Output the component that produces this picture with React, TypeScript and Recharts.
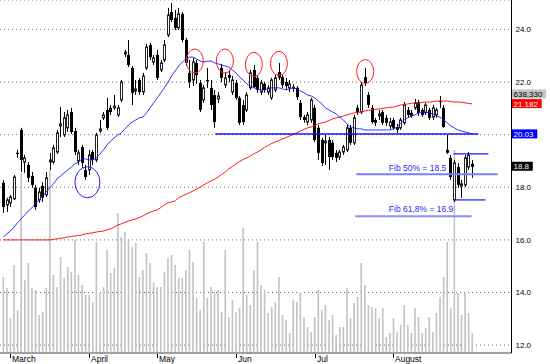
import React from 'react'
import {
  ComposedChart,
  Bar,
  Line,
  XAxis,
  YAxis,
  CartesianGrid,
  ReferenceLine,
  ReferenceDot,
} from 'recharts'

document.body.style.margin = '0'

const font = '"Liberation Sans", Arial, sans-serif'

// daily OHLC, one entry per trading day (late Feb .. end of August)
const opens = [
  18.17, 17.33, 17.41, 17.56, 19.31, 20.18, 18.96, 18.85, 18.43, 17.98,
  17.52, 18.05, 17.71, 18.96, 18.96, 19.34, 20.33, 19.99, 20.26, 20.86,
  20.14, 19.0, 19.53, 18.66, 18.66, 19.34, 19.04, 20.14, 20.64, 20.94,
  21.02, 21.02, 20.75, 21.32, 23.07, 23.03, 22.54, 21.66, 22.08, 21.62,
  22.54, 23.41, 22.76, 23.03, 22.46, 22.84, 23.79, 24.66, 24.44, 24.06,
  24.59, 23.6, 22.35, 22.08, 22.73, 21.97, 21.32, 22.08, 21.78, 21.51,
  21.36, 22.54, 21.89, 22.27, 21.62, 21.97, 21.4, 21.13, 20.94, 21.78,
  22.46, 22.16, 21.62, 21.93, 21.62, 21.4, 21.7, 22.38, 22.19, 22.0,
  21.78, 21.78, 21.78, 21.21, 20.67, 20.48, 20.56, 21.02, 20.26, 19.8,
  19.69, 19.8, 19.69, 19.31, 19.15, 19.34, 19.42, 20.26, 19.69, 21.02,
  20.86, 22.19, 21.51, 21.02, 20.56, 20.71, 20.86, 20.64, 20.33, 20.56,
  20.29, 20.26, 20.45, 20.94, 20.83, 21.02, 21.24, 20.94, 20.83, 20.94,
  20.67, 20.75, 21.28, 21.02, 19.42, 19.12, 17.52, 18.77, 18.05, 18.09,
  18.77, 18.89,
]
const highs = [
  18.28, 17.6, 17.71, 18.47, 19.42, 20.26, 19.23, 18.96, 18.58, 18.09,
  17.98, 18.2, 18.58, 19.31, 19.61, 20.18, 21.05, 20.86, 20.94, 21.02,
  20.26, 19.42, 19.61, 18.85, 19.42, 19.42, 20.07, 20.56, 20.86, 21.4,
  21.13, 21.51, 21.13, 22.08, 23.22, 23.6, 22.61, 22.08, 22.16, 22.35,
  23.45, 23.49, 23.03, 23.22, 22.84, 23.6, 24.82, 25.01, 24.74, 24.82,
  24.66, 23.68, 22.84, 22.92, 22.84, 22.08, 21.89, 22.54, 22.08, 21.7,
  21.62, 22.69, 22.38, 22.46, 22.23, 22.08, 21.47, 21.32, 21.62, 22.46,
  22.65, 22.27, 22.08, 22.0, 21.89, 22.16, 22.27, 22.73, 22.27, 22.16,
  22.08, 21.93, 21.85, 21.32, 20.75, 20.86, 21.4, 21.13, 20.37, 19.88,
  19.99, 19.91, 19.8, 19.42, 19.42, 19.61, 20.37, 20.37, 20.75, 21.13,
  22.0, 22.54, 21.62, 21.13, 20.64, 20.94, 20.94, 20.75, 20.64, 20.64,
  20.41, 20.64, 21.24, 21.05, 20.94, 21.36, 21.32, 21.02, 21.21, 21.02,
  21.13, 21.02, 21.47, 21.13, 19.99, 19.23, 19.04, 18.92, 18.28, 19.23,
  19.34, 19.04,
]
const lows = [
  17.03, 17.06, 17.25, 17.52, 19.12, 18.58, 18.55, 18.2, 17.98, 17.14,
  17.41, 17.44, 17.63, 18.66, 18.89, 19.27, 19.91, 19.91, 20.1, 20.03,
  19.23, 18.85, 18.74, 18.28, 18.47, 18.85, 18.96, 20.07, 20.56, 20.18,
  20.75, 20.94, 20.67, 21.24, 22.95, 22.57, 21.13, 21.51, 21.51, 21.51,
  22.46, 22.84, 22.65, 22.08, 22.38, 22.76, 23.71, 24.28, 23.98, 23.98,
  23.52, 22.61, 21.78, 21.85, 21.93, 20.86, 21.21, 21.78, 20.94, 20.26,
  21.21, 22.0, 21.78, 22.0, 21.51, 21.32, 20.37, 20.37, 20.86, 21.7,
  21.78, 21.59, 21.51, 21.59, 21.51, 21.32, 21.62, 22.08, 21.78, 21.7,
  21.62, 21.62, 21.32, 20.56, 20.45, 20.37, 20.45, 19.72, 19.04, 18.81,
  18.85, 18.66, 19.04, 18.96, 19.04, 19.23, 19.34, 19.61, 19.61, 20.75,
  20.79, 21.85, 21.02, 20.41, 20.33, 20.56, 20.37, 20.33, 20.22, 20.18,
  20.07, 20.18, 20.37, 20.64, 20.64, 20.94, 20.71, 20.67, 20.75, 20.56,
  20.56, 20.64, 21.02, 20.26, 19.27, 18.28, 17.44, 17.98, 17.6, 18.01,
  18.66, 18.36,
]
const closes = [
  17.25, 17.52, 17.63, 18.39, 19.27, 19.04, 19.12, 18.36, 18.09, 17.25,
  17.82, 17.6, 18.36, 19.04, 19.5, 20.07, 20.41, 20.64, 20.75, 20.1,
  19.34, 19.31, 18.93, 18.39, 19.23, 19.04, 19.99, 20.22, 20.75, 20.26,
  20.86, 21.09, 21.02, 22.0, 23.14, 22.65, 21.59, 21.74, 21.62, 22.23,
  23.33, 22.95, 22.92, 22.16, 22.73, 23.41, 24.55, 24.36, 24.06, 24.59,
  23.6, 22.73, 22.0, 22.76, 22.27, 20.94, 21.78, 22.04, 21.13, 20.48,
  21.47, 22.16, 22.16, 22.16, 22.08, 21.4, 20.45, 20.48, 21.51, 22.35,
  21.81, 21.7, 21.97, 21.7, 21.78, 22.08, 22.16, 22.16, 21.89, 21.85,
  21.93, 21.81, 21.43, 20.67, 20.56, 20.75, 21.32, 19.8, 19.31, 18.92,
  19.76, 19.15, 19.15, 19.12, 19.34, 19.53, 20.26, 19.69, 20.64, 20.86,
  21.89, 21.97, 21.13, 20.48, 20.45, 20.79, 20.45, 20.45, 20.48, 20.26,
  20.18, 20.56, 21.13, 20.75, 20.71, 21.21, 20.83, 20.75, 21.13, 20.64,
  21.02, 20.94, 21.24, 20.29, 19.31, 18.39, 18.93, 18.09, 18.13, 19.12,
  19.23, 18.77,
]
// volume, in units of ~32k shares
const volumes = [
  76, 65, 35, 88, 43, 180, 73, 90, 65, 63,
  38, 41, 65, 183, 78, 66, 96, 75, 86, 81,
  113, 78, 68, 58, 58, 51, 111, 60, 66, 103,
  80, 85, 140, 116, 121, 113, 106, 110, 76, 83,
  100, 90, 71, 66, 66, 81, 95, 98, 88, 75,
  75, 83, 103, 91, 55, 43, 111, 55, 66, 61,
  63, 41, 103, 36, 53, 41, 45, 125, 58, 48,
  83, 111, 68, 63, 40, 46, 51, 76, 38, 33,
  20, 53, 51, 61, 36, 26, 21, 36, 63, 43,
  48, 33, 38, 18, 26, 26, 65, 35, 50, 56,
  90, 68, 48, 46, 45, 35, 45, 16, 20, 35,
  21, 28, 48, 28, 20, 45, 36, 20, 25, 36,
  21, 40, 56, 76, 111, 45, 203, 60, 38, 60,
  40, 20,
]
// short moving average (blue)
const maShort = [
  16.11, 16.23, 16.34, 16.49, 16.65, 16.8, 16.95, 17.1, 17.22, 17.37,
  17.52, 17.67, 17.82, 17.98, 18.13, 18.32, 18.43, 18.55, 18.66, 18.77,
  18.89, 18.96, 19.08, 19.08, 19.04, 19.04, 19.12, 19.27, 19.42, 19.61,
  19.76, 19.88, 19.99, 20.07, 20.22, 20.37, 20.48, 20.56, 20.64, 20.67,
  20.83, 21.02, 21.21, 21.4, 21.59, 21.78, 22.0, 22.23, 22.42, 22.61,
  22.76, 22.88, 22.95, 22.95, 22.88, 22.8, 22.76, 22.8, 22.8, 22.73,
  22.69, 22.65, 22.61, 22.57, 22.46, 22.35, 22.19, 22.08, 21.93, 21.85,
  21.78, 21.74, 21.7, 21.7, 21.74, 21.78, 21.78, 21.78, 21.74, 21.7,
  21.74, 21.78, 21.74, 21.66, 21.59, 21.51, 21.47, 21.4, 21.28, 21.17,
  21.02, 20.94, 20.86, 20.79, 20.67, 20.56, 20.41, 20.29, 20.26, 20.22,
  20.22, 20.18, 20.18, 20.18, 20.18, 20.18, 20.18, 20.18, 20.18, 20.22,
  20.29, 20.45, 20.56, 20.64, 20.71, 20.75, 20.83, 20.86, 20.86, 20.83,
  20.79, 20.71, 20.67, 20.56, 20.45, 20.33, 20.26, 20.18, 20.14, 20.1,
  20.07, 20.03,
]
// long moving average (red)
const maLong = [
  16.0, 16.0, 16.0, 16.0, 16.0, 16.0, 16.0, 16.0, 16.0, 16.0,
  16.0, 16.0, 16.0, 16.0, 16.02, 16.04, 16.06, 16.08, 16.11, 16.13,
  16.15, 16.17, 16.19, 16.23, 16.25, 16.27, 16.3, 16.32, 16.34, 16.38,
  16.42, 16.49, 16.57, 16.61, 16.67, 16.72, 16.76, 16.8, 16.85, 16.91,
  16.99, 17.05, 17.1, 17.14, 17.23, 17.33, 17.41, 17.44, 17.48, 17.6,
  17.67, 17.73, 17.79, 17.86, 17.94, 18.01, 18.09, 18.17, 18.24, 18.3,
  18.39, 18.49, 18.58, 18.7, 18.79, 18.89, 18.98, 19.06, 19.12, 19.19,
  19.27, 19.34, 19.42, 19.52, 19.59, 19.67, 19.72, 19.78, 19.84, 19.89,
  19.95, 20.01, 20.07, 20.14, 20.2, 20.26, 20.29, 20.35, 20.41, 20.45,
  20.48, 20.54, 20.6, 20.64, 20.67, 20.71, 20.75, 20.79, 20.83, 20.85,
  20.86, 20.9, 20.92, 20.94, 20.96, 20.98, 21.0, 21.02, 21.04, 21.05,
  21.09, 21.13, 21.15, 21.17, 21.19, 21.21, 21.21, 21.23, 21.24, 21.24,
  21.26, 21.28, 21.28, 21.28, 21.28, 21.26, 21.24, 21.24, 21.23, 21.21,
  21.19, 21.17,
]

const monthTicks = [2, 24, 43, 65, 87, 109]
const monthLabels = ['March', 'April', 'May', 'Jun', 'Jul', 'August']
const priceTicks = [12, 14, 16, 18, 20, 22, 24]

// drawn levels: support line, fib 50%, fib 61.8%, short bracket lines
const levelValues = [20.03, 18.5, 16.9, 19.27, 17.52]
const levelFrom = [59.2, 98.6, 98.3, 125.8, 126]
const levelTo = [132.7, 138.1, 130.8, 135.5, 134.7]
const levelColors = ['#1414ff', '#7d7dff', '#8c8cff', '#1414ff', '#1414ff']
const levelWidths = [1.5, 2, 2, 1.2, 1.2]

const fibTexts = ['Fib 50% = 18.5', 'Fib 61,8% = 16.9']
const fibTextX = [107.7, 107.7]
const fibTextY = [18.62, 17.06]

// red circles on the tops, blue circle on the April low
const topCircleX = [53.5, 61.9, 70.0, 77.0, 101.1]
const topCircleY = [22.8, 22.8, 22.67, 22.71, 22.4]
const lowCircleX = [23.5]
const lowCircleY = [18.19]

// right-hand value tags
const tagTexts = ['638,330', '21.182', '20.03', '18.8']
const tagLevels = [21.55, 21.182, 20.03, 18.8]
const tagFills = ['#c4c4c4', '#ff0000', '#0000ff', '#000000']
const tagInk = ['#000', '#fff', '#fff', '#fff']

const data = opens.map((open, i) => ({
  i,
  open,
  high: highs[i],
  low: lows[i],
  close: closes[i],
  range: [lows[i], highs[i]],
  volume: volumes[i],
  maShort: maShort[i],
  maLong: maLong[i],
}))

const xDomain = [-0.92, 141.97]

function Candle(props: any) {
  const { x, y, width, height, payload } = props
  if (!payload) return null
  const { open, close, high, low } = payload
  const top = Math.min(y, y + height)
  const h = Math.abs(height)
  const k = high === low ? 0 : h / (high - low)
  const cx = Math.round(x + width / 2)
  const bodyTop = top + (high - Math.max(open, close)) * k
  const bodyH = Math.max(1.2, Math.abs(open - close) * k)
  const up = close >= open
  return (
    <g>
      <line x1={cx + 0.5} x2={cx + 0.5} y1={top} y2={top + h} stroke="#000" strokeWidth={1} />
      {up ? (
        <rect x={cx - 0.5} y={bodyTop} width={2} height={bodyH} fill="#fff" stroke="#222" strokeWidth={1} />
      ) : (
        <rect x={cx - 1} y={bodyTop} width={3} height={bodyH} fill="#000" />
      )}
    </g>
  )
}

function MonthTick(props: any) {
  const { x, y, payload } = props
  const label = monthLabels[monthTicks.indexOf(payload.value)]
  const px = Math.round(x)
  return (
    <g>
      <line x1={px + 0.5} x2={px + 0.5} y1={y + 1} y2={y + 5} stroke="#000" />
      <text x={px + 2} y={y + 9} fontSize={8.5} fill="#000" fontFamily={font}>
        {label}
      </text>
    </g>
  )
}

export default function App() {
  return (
    <div style={{ width: 550, height: 364, background: '#fff' }}>
      <ComposedChart width={550} height={364} data={data} margin={{ top: 0, right: 0, bottom: 0, left: 0 }}>
        <XAxis
          xAxisId="x"
          dataKey="i"
          type="number"
          domain={xDomain}
          allowDataOverflow
          ticks={monthTicks}
          interval={0}
          tick={<MonthTick />}
          tickLine={false}
          tickSize={0}
          tickMargin={0}
          axisLine={{ stroke: '#a0a0a0', strokeWidth: 2 }}
          height={11}
        />
        <XAxis xAxisId="xv" dataKey="i" type="number" domain={xDomain} allowDataOverflow hide />
        <YAxis
          yAxisId="price"
          orientation="right"
          width={38.5}
          domain={[11.7, 25.12]}
          allowDataOverflow
          ticks={priceTicks}
          interval={0}
          tickFormatter={(v: number) => (v === 20 ? '' : v.toFixed(1))}
          axisLine={{ stroke: '#000' }}
          tickLine={false}
          tickSize={0}
          tickMargin={4}
          tick={{ fontSize: 8, fill: '#000', fontFamily: font }}
        />
        <YAxis yAxisId="vol" hide domain={[0, 353]} allowDataOverflow />
        <CartesianGrid xAxisId="x" yAxisId="price" vertical={false} stroke="#6a6a6a" strokeDasharray="1 3" />

        <Bar
          xAxisId="xv"
          yAxisId="vol"
          dataKey="volume"
          fill="#c2c2c2"
          barSize={1.6}
          isAnimationActive={false}
        />
        <Bar
          xAxisId="x"
          yAxisId="price"
          dataKey="range"
          barSize={3}
          shape={(p: any) => <Candle {...p} />}
          isAnimationActive={false}
        />
        <Line
          xAxisId="x"
          yAxisId="price"
          dataKey="maLong"
          stroke="#ff1a1a"
          strokeWidth={1}
          dot={false}
          activeDot={false}
          isAnimationActive={false}
        />
        <Line
          xAxisId="x"
          yAxisId="price"
          dataKey="maShort"
          stroke="#1a1aff"
          strokeWidth={0.9}
          dot={false}
          activeDot={false}
          isAnimationActive={false}
        />

        {levelValues.map((v, k) => (
          <ReferenceLine
            key={'lvl' + k}
            xAxisId="x"
            yAxisId="price"
            segment={[
              { x: levelFrom[k], y: v },
              { x: levelTo[k], y: v },
            ]}
            stroke={levelColors[k]}
            strokeWidth={levelWidths[k]}
          />
        ))}

        {fibTexts.map((t, k) => (
          <ReferenceDot
            key={'fib' + k}
            xAxisId="x"
            yAxisId="price"
            x={fibTextX[k]}
            y={fibTextY[k]}
            r={1}
            shape={(p: any) => (
              <text x={p.cx} y={p.cy} fontSize={8.5} fill="#2a2aee" fontFamily={font}>
                {t}
              </text>
            )}
          />
        ))}

        {topCircleX.map((cx, k) => (
          <ReferenceDot
            key={'top' + k}
            xAxisId="x"
            yAxisId="price"
            x={cx}
            y={topCircleY[k]}
            r={1}
            shape={(p: any) => <ellipse cx={p.cx} cy={p.cy} rx={8.5} ry={12} fill="none" stroke="#ff2020" strokeWidth={1} />}
          />
        ))}
        {lowCircleX.map((cx, k) => (
          <ReferenceDot
            key={'low' + k}
            xAxisId="x"
            yAxisId="price"
            x={cx}
            y={lowCircleY[k]}
            r={1}
            shape={(p: any) => <ellipse cx={p.cx} cy={p.cy} rx={12.5} ry={15.5} fill="none" stroke="#2020ff" strokeWidth={1} />}
          />
        ))}

        {tagTexts.map((t, k) => (
          <ReferenceDot
            key={'tag' + k}
            xAxisId="x"
            yAxisId="price"
            x={141.9}
            y={tagLevels[k]}
            r={1}
            shape={(p: any) => {
              const left = Math.round(p.cx) + 1
              const w = t.length * 4.45 + 3
              return (
                <g>
                  <rect x={left} y={p.cy - 4.5} width={w} height={9} fill={tagFills[k]} />
                  <text x={left + 1.5} y={p.cy + 3} fontSize={8} fill={tagInk[k]} fontFamily={font}>
                    {t}
                  </text>
                </g>
              )
            }}
          />
        ))}
      </ComposedChart>
    </div>
  )
}
